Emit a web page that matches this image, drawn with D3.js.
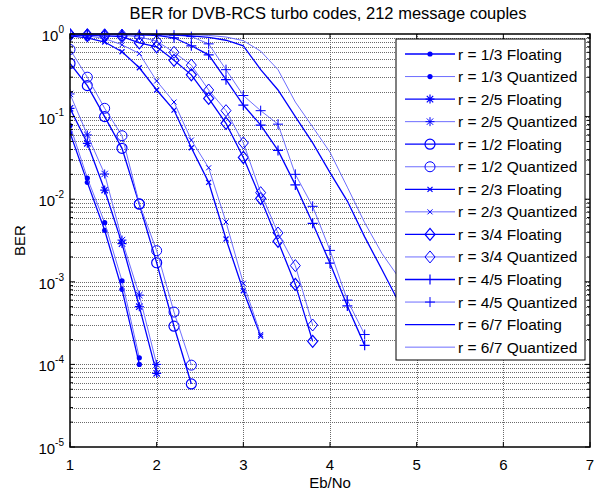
<!DOCTYPE html>
<html><head><meta charset="utf-8">
<script src="https://cdn.jsdelivr.net/npm/d3@7"></script>
<style>body{margin:0;background:#fff}svg{display:block;font-family:"Liberation Sans",Arial,sans-serif}</style>
</head><body><svg id="c" width="598" height="491"></svg>
<script>
// ---------- data ----------
const titleText = "BER for DVB-RCS turbo codes, 212 message couples";
const xLabelText = "Eb/No";
const yLabelText = "BER";
const xTicks = [1, 2, 3, 4, 5, 6, 7];
const yExponents = [0, -1, -2, -3, -4, -5];

const eb13 = [1.0, 1.2, 1.4, 1.6, 1.8];
const r13F = [0.064, 0.016, 0.0042, 0.00081, 1.0e-4];
const r13Q = [0.078, 0.018, 0.0052, 0.00103, 1.2e-4];

const eb25 = [1.0, 1.2, 1.4, 1.6, 1.8, 2.0];
const r25F = [0.126, 0.0475, 0.0129, 0.0029, 5.0e-4, 7.8e-5];
const r25Q = [0.188, 0.060, 0.0202, 0.0032, 6.9e-4, 1.0e-4];

const eb12 = [1.0, 1.2, 1.4, 1.6, 1.8, 2.0, 2.2, 2.4];
const r12F = [0.44, 0.237, 0.10, 0.0413, 0.0087, 0.0017, 2.9e-4, 5.8e-5];
const r12Q = [0.65, 0.30, 0.126, 0.0587, 0.0088, 0.00238, 4.3e-4, 9.8e-5];

const eb23 = [1.0, 1.2, 1.4, 1.6, 1.8, 2.0, 2.2, 2.4, 2.6, 2.8, 3.0, 3.2];
const r23F = [0.95, 0.90, 0.80, 0.61, 0.39, 0.21, 0.12, 0.042, 0.016, 0.0033, 7.8e-4, 2.2e-4];
const r23Q = [0.98, 0.95, 0.88, 0.74, 0.58, 0.27, 0.15, 0.052, 0.024, 0.0053, 9.6e-4, 2.3e-4];

const eb34 = [1.0, 1.2, 1.4, 1.6, 1.8, 2.0, 2.2, 2.4, 2.6, 2.8, 3.0, 3.2, 3.4, 3.6, 3.8];
const r34F = [0.97, 0.96, 0.95, 0.93, 0.78, 0.70, 0.48, 0.32, 0.166, 0.083, 0.032, 0.0102, 0.0031, 9.3e-4, 1.9e-4];
const r34Q = [0.99, 0.985, 0.98, 0.97, 0.92, 0.82, 0.60, 0.42, 0.21, 0.118, 0.048, 0.012, 0.0039, 0.00157, 3.0e-4];

const eb45 = [1.0, 1.2, 1.4, 1.6, 1.8, 2.0, 2.2, 2.4, 2.6, 2.8, 3.0, 3.2, 3.4, 3.6, 3.8, 4.0, 4.2, 4.4];
const r45F = [0.99, 0.99, 0.985, 0.98, 0.975, 0.96, 0.90, 0.72, 0.56, 0.28, 0.138, 0.079, 0.039, 0.0149, 0.0051, 0.00168, 5.1e-4, 1.7e-4];
const r45Q = [0.995, 0.995, 0.993, 0.99, 0.99, 0.985, 0.97, 0.93, 0.76, 0.37, 0.18, 0.118, 0.081, 0.020, 0.0082, 0.0024, 6.0e-4, 2.3e-4];

const eb67 = [1.0, 1.2, 1.4, 1.6, 1.8, 2.0, 2.2, 2.4, 2.6, 2.8, 3.0, 3.2, 3.4, 3.6, 3.8, 4.0, 4.2, 4.4, 4.6, 4.8, 5.0];
const r67F = [0.995, 0.995, 0.994, 0.993, 0.99, 0.985, 0.975, 0.95, 0.91, 0.84, 0.72, 0.37, 0.21, 0.10, 0.048, 0.021, 0.0095, 0.0035, 0.0014, 5.5e-4, 2.0e-4];
const r67Q = [0.997, 0.997, 0.997, 0.997, 0.997, 0.997, 0.99, 0.985, 0.96, 0.92, 0.83, 0.62, 0.37, 0.15, 0.075, 0.037, 0.014, 0.0052, 0.0022, 0.0011, 4.0e-4];

const seriesNames = [
  "r = 1/3 Floating", "r = 1/3 Quantized",
  "r = 2/5 Floating", "r = 2/5 Quantized",
  "r = 1/2 Floating", "r = 1/2 Quantized",
  "r = 2/3 Floating", "r = 2/3 Quantized",
  "r = 3/4 Floating", "r = 3/4 Quantized",
  "r = 4/5 Floating", "r = 4/5 Quantized",
  "r = 6/7 Floating", "r = 6/7 Quantized"
];
const seriesX = [eb13, eb13, eb25, eb25, eb12, eb12, eb23, eb23, eb34, eb34, eb45, eb45, eb67, eb67];
const seriesY = [r13F, r13Q, r25F, r25Q, r12F, r12Q, r23F, r23Q, r34F, r34Q, r45F, r45Q, r67F, r67Q];
const seriesMarker = ["dot", "dot", "star", "star", "circle", "circle", "x", "x", "diamond", "diamond", "plus", "plus", "none", "none"];

// ---------- layout ----------
const L = 70, R = 590, T = 34, B = 447;
const svg = d3.select("#c");
const x = d3.scaleLinear().domain([1, 7]).range([L, R]);
const y = d3.scaleLog().domain([1e-5, 1]).range([B, T]);
const BLUE = "#0000ff";
const QLINE = "#6e6eff";

// grid
const grid = svg.append("g");
const minorVals = [];
for (let e = -5; e < 0; e++) for (let k = 1; k <= 9; k++) minorVals.push(k * Math.pow(10, e));
minorVals.push(1);
grid.selectAll("line.h").data(minorVals.filter(v => v > 1e-5 && v < 1)).enter().append("line")
  .attr("x1", L).attr("x2", R).attr("y1", d => Math.round(y(d)) + 0.5).attr("y2", d => Math.round(y(d)) + 0.5)
  .attr("stroke", "#6a6a6a").attr("stroke-width", 1).attr("stroke-dasharray", "1,1");
grid.selectAll("line.v").data(xTicks.filter(v => v > 1 && v < 7)).enter().append("line")
  .attr("y1", T).attr("y2", B).attr("x1", d => Math.round(x(d)) + 0.5).attr("x2", d => Math.round(x(d)) + 0.5)
  .attr("stroke", "#6a6a6a").attr("stroke-width", 1).attr("stroke-dasharray", "1,1");

// clip
svg.append("clipPath").attr("id", "clip").append("rect").attr("x", L).attr("y", T - 8).attr("width", R - L).attr("height", B - T + 8);

function markerPath(type) {
  switch (type) {
    case "star": return "M-4.5,0H4.5M0,-4.5V4.5M-3.2,-3.2L3.2,3.2M-3.2,3.2L3.2,-3.2";
    case "x": return "M-2.5,-2.5L2.5,2.5M-2.5,2.5L2.5,-2.5";
    case "diamond": return "M0,-6L5,0L0,6L-5,0Z";
    case "plus": return "M-5,0H5M0,-5V5";
    default: return null;
  }
}
function drawMarker(g, type, cx, cy, q) {
  const sw = q ? 1 : 1.2;
  if (type === "dot") {
    g.append("circle").attr("cx", cx).attr("cy", cy).attr("r", 2.6).attr("fill", BLUE);
  } else if (type === "circle") {
    g.append("circle").attr("cx", cx).attr("cy", cy).attr("r", 5).attr("fill", "none").attr("stroke", BLUE).attr("stroke-width", sw);
  } else if (type !== "none") {
    g.append("path").attr("d", markerPath(type)).attr("transform", `translate(${cx},${cy})`)
      .attr("fill", "none").attr("stroke", BLUE).attr("stroke-width", sw);
  }
}

const plot = svg.append("g").attr("clip-path", "url(#clip)");
const line = d3.line().x(d => x(d[0])).y(d => y(d[1]));
seriesNames.forEach((name, i) => {
  const q = i % 2 === 1;
  const pts = seriesX[i].map((v, j) => [v, seriesY[i][j]]);
  plot.append("path").attr("d", line(pts)).attr("fill", "none")
    .attr("stroke", q ? QLINE : BLUE).attr("stroke-width", q ? 1 : 1.3);
  const mg = plot.append("g");
  pts.forEach(p => drawMarker(mg, seriesMarker[i], x(p[0]), y(p[1]), q));
});

// axes box
svg.append("rect").attr("x", L).attr("y", T).attr("width", R - L).attr("height", B - T)
  .attr("fill", "none").attr("stroke", "#000").attr("stroke-width", 1.5);

// ticks
const tk = svg.append("g").attr("stroke", "#000").attr("stroke-width", 1);
xTicks.forEach(v => {
  tk.append("line").attr("x1", x(v)).attr("x2", x(v)).attr("y1", B).attr("y2", B - 5);
  tk.append("line").attr("x1", x(v)).attr("x2", x(v)).attr("y1", T).attr("y2", T + 5);
});
minorVals.forEach(v => {
  const major = Math.abs(Math.log10(v) - Math.round(Math.log10(v))) < 1e-9;
  const len = major ? 5 : 3;
  tk.append("line").attr("x1", L).attr("x2", L + len).attr("y1", y(v)).attr("y2", y(v));
  tk.append("line").attr("x1", R).attr("x2", R - len).attr("y1", y(v)).attr("y2", y(v));
});

// tick labels
const lab = svg.append("g").attr("fill", "#000").attr("font-size", 15);
xTicks.forEach(v => {
  lab.append("text").attr("x", x(v)).attr("y", B + 23).attr("text-anchor", "middle").text(v);
});
yExponents.forEach(e => {
  const yy = y(Math.pow(10, e));
  const t = lab.append("text").attr("x", L - 6).attr("y", yy + 7).attr("text-anchor", "end");
  t.append("tspan").text("10");
  t.append("tspan").attr("font-size", 10).attr("dy", -8).text(e);
});

// titles
svg.append("text").attr("x", (L + R) / 2 - 2).attr("y", 19).attr("text-anchor", "middle").attr("font-size", 16.5).text(titleText);
svg.append("text").attr("x", (L + R) / 2).attr("y", 488).attr("text-anchor", "middle").attr("font-size", 15).text(xLabelText);
svg.append("text").attr("transform", `translate(25,${(T + B) / 2}) rotate(-90)`).attr("text-anchor", "middle").attr("font-size", 15).text(yLabelText);

// legend
const lg = svg.append("g");
lg.append("rect").attr("x", 396).attr("y", 39).attr("width", 189).attr("height", 321)
  .attr("fill", "#fff").attr("stroke", "#000").attr("stroke-width", 1);
seriesNames.forEach((name, i) => {
  const q = i % 2 === 1;
  const yy = 54 + i * 22.55;
  lg.append("line").attr("x1", 405).attr("x2", 455).attr("y1", yy).attr("y2", yy)
    .attr("stroke", q ? QLINE : BLUE).attr("stroke-width", q ? 1 : 1.3);
  drawMarker(lg, seriesMarker[i], 430, yy, q);
  lg.append("text").attr("x", 458).attr("y", yy + 5.5).attr("font-size", 15.5).text(name);
});
</script></body></html>
